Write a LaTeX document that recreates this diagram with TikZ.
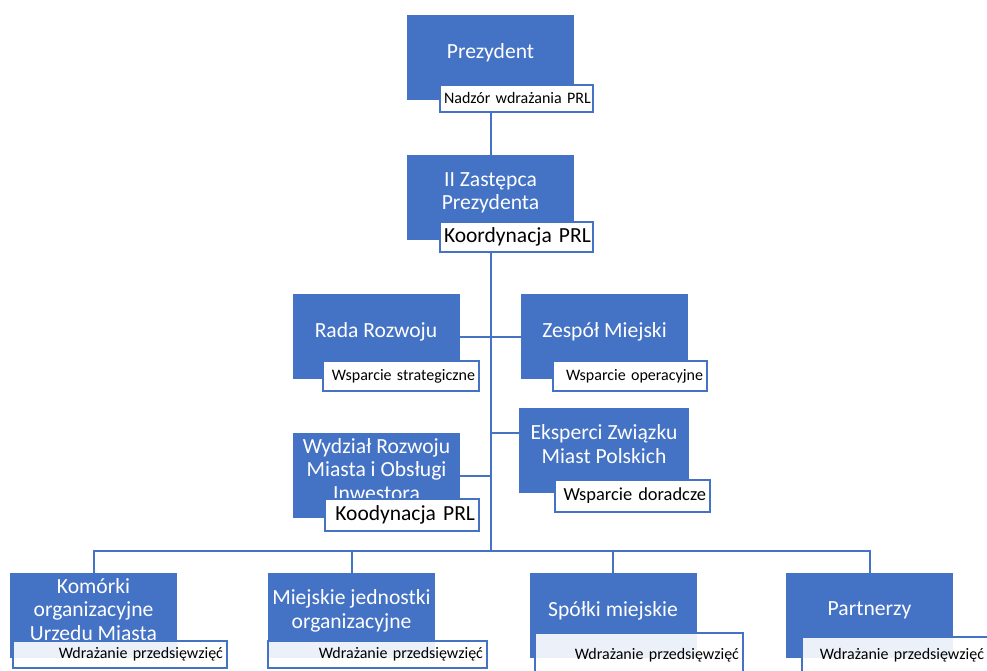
\documentclass[tikz,border=0pt]{standalone}
\usepackage{fontspec}
\setmainfont{Carlito}
\usepackage{tikz}
\usetikzlibrary{positioning, backgrounds, calc}
\definecolor{orgblue}{RGB}{68,114,196}

\begin{document}
\begin{tikzpicture}[
  x=1pt, y=-1pt,
  unit/.style={fill=orgblue, text=white, minimum width=167pt, minimum height=85pt,
               align=center, inner sep=2pt, text depth=13pt,
               font=\fontsize{21.6}{23.5}\selectfont},
  tag/.style={draw=orgblue, fill=white, line width=1.8pt, text width=#1,
              align=right, inner xsep=4pt, inner ysep=0pt,
              execute at begin node={\hyphenpenalty=10000},
              font=\fontsize{16}{18}\selectfont},
  bigtag/.style={tag=#1, font=\fontsize{21.5}{24}\selectfont},
  faint/.style={fill opacity=0.9, text opacity=1},
  link/.style={draw=orgblue, line width=2pt}
]
\useasboundingbox (0,0) rectangle (987,671);
\node[unit] (pres) at (490.5,57.5) {Prezydent};
\node[tag=145pt, minimum height=27pt] (prestag) at (516.5,98.5) {Nadzór~wdrażania~PRL};
\node[unit] (zast) at (490.5,197.5) {II Zastępca\\Prezydenta};
\node[bigtag=145pt, minimum height=30pt] (zasttag) at (516.5,237) {Koordynacja~PRL};
\node[unit] (rada) at (376,336.5) {Rada Rozwoju};
\node[tag=148pt, minimum height=30pt] (radatag) at (401,376) {Wsparcie~strategiczne};
\node[unit] (zesp) at (604.5,336.5) {Zespół Miejski};
\node[tag=146pt, minimum height=30pt] (zesptag) at (630,376) {Wsparcie~operacyjne};
\node[unit] (wydz) at (376.5,475.5) {Wydział Rozwoju\\Miasta i Obsługi\\Inwestora};
\node[bigtag=146pt, minimum height=32pt] (wydztag) at (402,515) {Koodynacja~PRL};
\node[unit, minimum width=170pt] (eksp) at (604,450.5) {Eksperci Związku\\Miast Polskich};
\node[tag=147pt, minimum height=32pt, font=\fontsize{18.4}{21}\selectfont] (eksptag) at (632.5,496) {Wsparcie~doradcze};
\coordinate (ekspin) at ([yshift=17.5pt]eksp.west);
% bottom row hangs from the bus
\coordinate (bus) at (490.5,551);
\node[unit] (komo) at (93.5,615.5) {Komórki\\organizacyjne\\Urzedu Miasta};
\node[tag=206pt, minimum height=27pt, faint] (komotag) at (120,654.5) {Wdrażanie~przedsięwzięć};
\node[unit] (miej) at (351.5,615.5) {Miejskie jednostki\\organizacyjne};
\node[tag=211pt, minimum height=27pt, faint] (miejtag) at (377.5,654.5) {Wdrażanie~przedsięwzięć};
\node[unit] (spol) at (613,615.5) {Spółki miejskie};
\node[tag=200pt, minimum height=44pt, faint] (spoltag) at (639,655) {Wdrażanie~przedsięwzięć};
\node[unit] (part) at (869.5,615.5) {Partnerzy};
\node[tag=178pt, minimum height=36pt, faint] (parttag) at (895,655) {Wdrażanie~przedsięwzięć};
\begin{scope}[on background layer]
\draw[link] (pres) -- (zast);
\draw[link] (zast) -- (bus);
\draw[link] (rada) -- (zesp);
\draw[link] (wydz) -- (wydz -| zast);
\draw[link] (ekspin) -- (ekspin -| zast);
\draw[link] (komo) |- (bus);
\draw[link] (miej) |- (bus);
\draw[link] (spol) |- (bus);
\draw[link] (part) |- (bus);
\end{scope}
\end{tikzpicture}
\end{document}
